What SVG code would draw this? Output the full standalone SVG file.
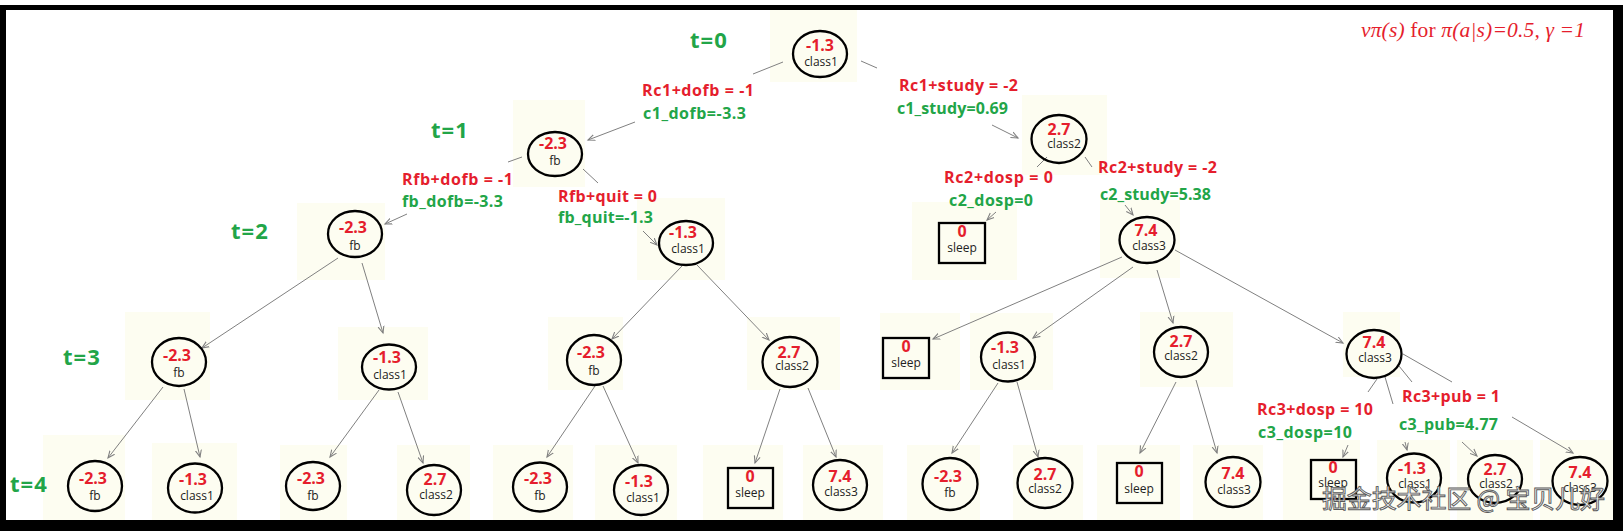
<svg xmlns="http://www.w3.org/2000/svg" width="1623" height="531" viewBox="0 0 1623 531">
<defs>
<marker id="ah" markerUnits="userSpaceOnUse" markerWidth="10" markerHeight="8" refX="7" refY="4" orient="auto">
<path d="M0,1 L7,4 L0,7" fill="none" stroke="#808080" stroke-width="1.1"/>
</marker>
<style>
.bg{fill:#fdfdf1}
.nd{fill:none;stroke:#000;stroke-width:2.3}
.v{font-family:"Open Sans","Noto Sans",sans-serif;font-weight:bold;font-size:16px;fill:#e51e2d;text-anchor:middle}
.n{font-family:"Open Sans","Noto Sans",sans-serif;font-size:12px;fill:#222;text-anchor:middle}
.r{font-family:"Open Sans","Noto Sans",sans-serif;font-weight:bold;font-size:16px;fill:#e51e2d}
.g{font-family:"Open Sans","Noto Sans",sans-serif;font-weight:bold;font-size:16px;fill:#22a548}
.t{font-family:"Open Sans","Noto Sans",sans-serif;font-weight:bold;font-size:22px;fill:#22a548;letter-spacing:1px}
.c line{stroke:#808080;stroke-width:1}
.c line.a{marker-end:url(#ah)}
</style>
</defs>
<rect x="0" y="0" width="1623" height="531" fill="#fff"/>
<g id="backgrounds">
<rect class="bg" x="770" y="10" width="87" height="72"/>
<rect class="bg" x="513" y="100" width="72" height="87"/>
<rect class="bg" x="1022" y="95" width="85" height="80"/>
<rect class="bg" x="297" y="203" width="88" height="77"/>
<rect class="bg" x="637" y="198" width="88" height="82"/>
<rect class="bg" x="912" y="202" width="105" height="78"/>
<rect class="bg" x="1100" y="200" width="80" height="78"/>
<rect class="bg" x="125" y="312" width="85" height="88"/>
<rect class="bg" x="338" y="327" width="90" height="73"/>
<rect class="bg" x="548" y="317" width="75" height="73"/>
<rect class="bg" x="747" y="317" width="93" height="73"/>
<rect class="bg" x="880" y="313" width="80" height="77"/>
<rect class="bg" x="970" y="313" width="83" height="77"/>
<rect class="bg" x="1140" y="312" width="93" height="75"/>
<rect class="bg" x="1343" y="312" width="57" height="65"/>
<rect class="bg" x="43" y="435" width="82" height="85"/>
<rect class="bg" x="152" y="443" width="85" height="77"/>
<rect class="bg" x="280" y="445" width="67" height="75"/>
<rect class="bg" x="397" y="445" width="73" height="75"/>
<rect class="bg" x="493" y="445" width="80" height="75"/>
<rect class="bg" x="595" y="445" width="82" height="75"/>
<rect class="bg" x="703" y="445" width="80" height="75"/>
<rect class="bg" x="803" y="445" width="80" height="75"/>
<rect class="bg" x="907" y="445" width="73" height="75"/>
<rect class="bg" x="1013" y="445" width="70" height="75"/>
<rect class="bg" x="1097" y="445" width="83" height="75"/>
<rect class="bg" x="1193" y="445" width="70" height="75"/>
<rect class="bg" x="1283" y="440" width="77" height="80"/>
<rect class="bg" x="1377" y="440" width="73" height="80"/>
<rect class="bg" x="1457" y="440" width="76" height="80"/>
<rect class="bg" x="1540" y="440" width="73" height="80"/>
</g>
<path d="M0,5 H1623 V531 H0 Z M6,10 V520 H1613 V10 Z" fill="#000" fill-rule="evenodd"/>
<g id="connectors" class="c">
<line x1="783" y1="62" x2="753" y2="74"/><line class="a" x1="635" y1="122" x2="588" y2="140"/>
<line x1="861" y1="61" x2="877" y2="68"/><line class="a" x1="992" y1="125" x2="1018" y2="138"/>
<line x1="522" y1="157" x2="508" y2="162"/><line class="a" x1="407" y1="214" x2="385" y2="224"/>
<line x1="583" y1="169" x2="598" y2="183"/><line class="a" x1="643" y1="231" x2="657" y2="245"/>
<line x1="1047" y1="157" x2="1037" y2="167"/><line class="a" x1="996" y1="212" x2="987" y2="220"/>
<line x1="1085" y1="157" x2="1092" y2="167"/><line class="a" x1="1125" y1="205" x2="1133" y2="215"/>
<line class="a" x1="338" y1="258" x2="202" y2="348"/>
<line class="a" x1="362" y1="263" x2="383" y2="333"/>
<line class="a" x1="682" y1="266" x2="612" y2="339"/>
<line class="a" x1="697" y1="265" x2="769" y2="340"/>
<line class="a" x1="1122" y1="257" x2="933" y2="339"/>
<line class="a" x1="1133" y1="267" x2="1033" y2="338"/>
<line class="a" x1="1157" y1="270" x2="1173" y2="323"/>
<line class="a" x1="1175" y1="250" x2="1343" y2="343"/>
<line class="a" x1="163" y1="387" x2="108" y2="458"/>
<line class="a" x1="184" y1="389" x2="200" y2="457"/>
<line class="a" x1="379" y1="390" x2="330" y2="457"/>
<line class="a" x1="398" y1="392" x2="423" y2="463"/>
<line class="a" x1="595" y1="386" x2="547" y2="457"/>
<line class="a" x1="603" y1="386" x2="638" y2="463"/>
<line class="a" x1="780" y1="389" x2="755" y2="463"/>
<line class="a" x1="808" y1="388" x2="836" y2="457"/>
<line class="a" x1="998" y1="383" x2="952" y2="453"/>
<line class="a" x1="1017" y1="382" x2="1038" y2="457"/>
<line class="a" x1="1176" y1="382" x2="1140" y2="453"/>
<line class="a" x1="1196" y1="380" x2="1217" y2="453"/>
<line x1="1377" y1="379" x2="1368" y2="392"/><line class="a" x1="1348" y1="445" x2="1343" y2="457"/>
<line x1="1385" y1="377" x2="1393" y2="404"/><line class="a" x1="1405" y1="442" x2="1407" y2="450"/>
<line x1="1399" y1="366" x2="1412" y2="382"/><line class="a" x1="1462" y1="442" x2="1477" y2="456"/>
<line x1="1403" y1="354" x2="1452" y2="382"/><line class="a" x1="1512" y1="417" x2="1573" y2="453"/>
</g>
<g id="labels">
<text class="r" x="642" y="96" textLength="112">Rc1+dofb = -1</text>
<text class="g" x="643" y="119" textLength="103">c1_dofb=-3.3</text>
<text class="r" x="899" y="91" textLength="119">Rc1+study = -2</text>
<text class="g" x="897" y="114" textLength="111">c1_study=0.69</text>
<text class="r" x="402" y="185" textLength="111">Rfb+dofb = -1</text>
<text class="g" x="402" y="207" textLength="101">fb_dofb=-3.3</text>
<text class="r" x="558" y="202" textLength="99">Rfb+quit = 0</text>
<text class="g" x="558" y="223" textLength="95">fb_quit=-1.3</text>
<text class="r" x="944" y="183" textLength="109">Rc2+dosp = 0</text>
<text class="g" x="949" y="206" textLength="84">c2_dosp=0</text>
<text class="r" x="1098" y="173" textLength="119">Rc2+study = -2</text>
<text class="g" x="1100" y="200" textLength="111">c2_study=5.38</text>
<text class="r" x="1257" y="415" textLength="116">Rc3+dosp = 10</text>
<text class="g" x="1258" y="438" textLength="94">c3_dosp=10</text>
<text class="r" x="1402" y="402" textLength="98">Rc3+pub = 1</text>
<text class="g" x="1399" y="430" textLength="99">c3_pub=4.77</text>
<text class="t" x="690" y="48">t=0</text>
<text class="t" x="431" y="138">t=1</text>
<text class="t" x="231" y="239">t=2</text>
<text class="t" x="63" y="365">t=3</text>
<text class="t" x="10" y="492">t=4</text>
<text x="1361" y="37" font-family="Liberation Serif, serif" font-size="21.5" fill="#e51e2d" textLength="224"><tspan font-style="italic">vπ(s)</tspan> for <tspan font-style="italic">π(a|s)=0.5, γ =1</tspan></text>
</g>
<g id="n0"><ellipse class="nd" cx="820" cy="54" rx="27" ry="23"/><text class="v" x="820" y="51">-1.3</text><text class="n" x="821" y="66">class1</text></g>
<g id="n1"><ellipse class="nd" cx="555" cy="154" rx="27" ry="22"/><text class="v" x="553" y="149">-2.3</text><text class="n" x="555" y="165">fb</text></g>
<g id="n2"><ellipse class="nd" cx="1059" cy="139" rx="27.5" ry="24"/><text class="v" x="1059" y="135">2.7</text><text class="n" x="1064" y="148">class2</text></g>
<g id="n3"><ellipse class="nd" cx="355" cy="234" rx="27" ry="23"/><text class="v" x="353" y="233">-2.3</text><text class="n" x="355" y="250">fb</text></g>
<g id="n4"><ellipse class="nd" cx="686" cy="243" rx="27" ry="22"/><text class="v" x="683" y="238">-1.3</text><text class="n" x="688" y="253">class1</text></g>
<g id="n5"><rect class="nd" x="939" y="223" width="46" height="40"/><text class="v" x="962" y="237">0</text><text class="n" x="962" y="252">sleep</text></g>
<g id="n6"><ellipse class="nd" cx="1147" cy="240" rx="27.5" ry="23"/><text class="v" x="1146" y="236">7.4</text><text class="n" x="1149" y="250">class3</text></g>
<g id="n7"><ellipse class="nd" cx="179" cy="362" rx="27" ry="24"/><text class="v" x="177" y="361">-2.3</text><text class="n" x="179" y="377">fb</text></g>
<g id="n8"><ellipse class="nd" cx="389" cy="367" rx="27" ry="22.5"/><text class="v" x="387" y="363">-1.3</text><text class="n" x="390" y="379">class1</text></g>
<g id="n9"><ellipse class="nd" cx="594" cy="360" rx="27" ry="25"/><text class="v" x="591" y="358">-2.3</text><text class="n" x="594" y="375">fb</text></g>
<g id="n10"><ellipse class="nd" cx="790" cy="362" rx="27.5" ry="25"/><text class="v" x="789" y="358">2.7</text><text class="n" x="792" y="370">class2</text></g>
<g id="n11"><rect class="nd" x="883" y="338" width="46" height="40"/><text class="v" x="906" y="352">0</text><text class="n" x="906" y="367">sleep</text></g>
<g id="n12"><ellipse class="nd" cx="1008" cy="357" rx="27" ry="24.5"/><text class="v" x="1005" y="353">-1.3</text><text class="n" x="1009" y="369">class1</text></g>
<g id="n13"><ellipse class="nd" cx="1181" cy="352" rx="27" ry="25"/><text class="v" x="1181" y="347">2.7</text><text class="n" x="1181" y="360">class2</text></g>
<g id="n14"><ellipse class="nd" cx="1374" cy="354" rx="27.5" ry="24"/><text class="v" x="1374" y="348">7.4</text><text class="n" x="1375" y="362">class3</text></g>
<g id="n15"><ellipse class="nd" cx="95" cy="486" rx="27" ry="25"/><text class="v" x="93" y="484">-2.3</text><text class="n" x="95" y="500">fb</text></g>
<g id="n16"><ellipse class="nd" cx="195" cy="488" rx="27" ry="24.5"/><text class="v" x="193" y="485">-1.3</text><text class="n" x="197" y="500">class1</text></g>
<g id="n17"><ellipse class="nd" cx="313" cy="486" rx="27" ry="24"/><text class="v" x="311" y="484">-2.3</text><text class="n" x="313" y="500">fb</text></g>
<g id="n18"><ellipse class="nd" cx="434" cy="490" rx="27" ry="25"/><text class="v" x="435" y="485">2.7</text><text class="n" x="436" y="499">class2</text></g>
<g id="n19"><ellipse class="nd" cx="540" cy="487" rx="27" ry="24.5"/><text class="v" x="538" y="484">-2.3</text><text class="n" x="540" y="500">fb</text></g>
<g id="n20"><ellipse class="nd" cx="641" cy="490" rx="27" ry="25"/><text class="v" x="639" y="487">-1.3</text><text class="n" x="643" y="502">class1</text></g>
<g id="n21"><rect class="nd" x="728" y="468" width="45" height="40"/><text class="v" x="750" y="482">0</text><text class="n" x="750" y="497">sleep</text></g>
<g id="n22"><ellipse class="nd" cx="840" cy="485" rx="27" ry="25"/><text class="v" x="840" y="482">7.4</text><text class="n" x="841" y="496">class3</text></g>
<g id="n23"><ellipse class="nd" cx="950" cy="484" rx="27.5" ry="26"/><text class="v" x="948" y="482">-2.3</text><text class="n" x="950" y="497">fb</text></g>
<g id="n24"><ellipse class="nd" cx="1045" cy="483" rx="27.5" ry="25"/><text class="v" x="1045" y="480">2.7</text><text class="n" x="1045" y="493">class2</text></g>
<g id="n25"><rect class="nd" x="1117" y="463" width="45" height="40"/><text class="v" x="1139" y="477">0</text><text class="n" x="1139" y="493">sleep</text></g>
<g id="n26"><ellipse class="nd" cx="1233" cy="482" rx="27.5" ry="25"/><text class="v" x="1233" y="479">7.4</text><text class="n" x="1234" y="494">class3</text></g>
<g id="n27"><rect class="nd" x="1311" y="460" width="45" height="39"/><text class="v" x="1333" y="473">0</text><text class="n" x="1333" y="487">sleep</text></g>
<g id="n28"><ellipse class="nd" cx="1414" cy="478" rx="27" ry="24.5"/><text class="v" x="1412" y="474">-1.3</text><text class="n" x="1415" y="488">class1</text></g>
<g id="n29"><ellipse class="nd" cx="1495" cy="479" rx="27" ry="24"/><text class="v" x="1495" y="475">2.7</text><text class="n" x="1496" y="488">class2</text></g>
<g id="n30"><ellipse class="nd" cx="1580" cy="481" rx="27.5" ry="24"/><text class="v" x="1580" y="478">7.4</text><text class="n" x="1580" y="492">class3</text></g>
<text x="1322" y="508" font-family="Noto Sans CJK SC, sans-serif" font-size="25" fill="#f2f2f2" stroke="#5a5a5a" stroke-width="0.9" textLength="283">掘金技术社区 @ 宝贝儿好</text>
</svg>
